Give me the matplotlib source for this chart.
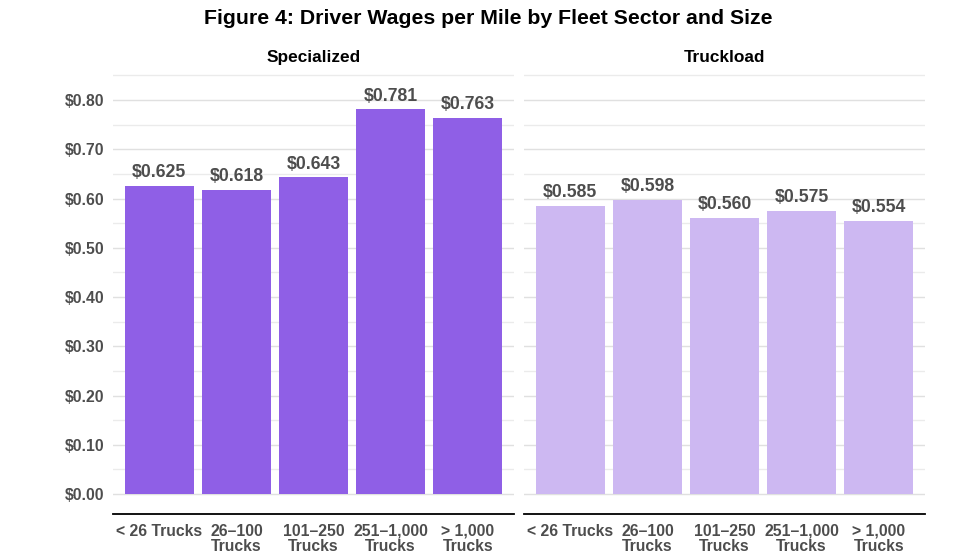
import matplotlib
matplotlib.use("Agg")
from matplotlib import pyplot as plt
import numpy as np

plt.rcParams['font.family'] = ['Liberation Sans', 'DejaVu Sans']

sizes = ['< 26 Trucks', '26\u2013100\nTrucks', '101\u2013250\nTrucks',
         '251\u20131,000\nTrucks', '> 1,000\nTrucks']
sectors = ['Specialized', 'Truckload']
specialized = [0.625, 0.618, 0.643, 0.781, 0.763]
truckload = [0.585, 0.598, 0.560, 0.575, 0.554]
values = [specialized, truckload]
colors = ['#8f5fe6', '#cdb8f2']

text_gray = '#4d4d4d'

fig = plt.figure(figsize=(9.8, 5.52), dpi=100)
fig.text(0.498, 0.984, 'Figure 4: Driver Wages per Mile by Fleet Sector and Size',
         ha='center', va='top', fontsize=15.3, fontweight='bold', color='black')

lefts = [113 / 980, 524 / 980]
for i, (name, vals, col) in enumerate(zip(sectors, values, colors)):
    ax = fig.add_axes([lefts[i], 38 / 552, 401 / 980, 444 / 552])
    x = np.arange(len(sizes))
    bars = ax.bar(x, vals, width=0.9, color=col, zorder=2)
    for b, v in zip(bars, vals):
        ax.annotate(f'${v:.3f}', (b.get_x() + b.get_width() / 2, v),
                    xytext=(0, 3.5), textcoords='offset points',
                    ha='center', va='bottom', fontsize=12.7,
                    fontweight='bold', color=text_gray)
    ax.set_xlim(-0.6, 4.6)
    ax.set_ylim(-0.0405, 0.861)
    ax.set_yticks(np.arange(0, 0.81, 0.1))
    ax.set_yticks(np.arange(0.05, 0.86, 0.1), minor=True)
    ax.grid(axis='y', which='major', color='#e0e0e0', linewidth=1, zorder=0)
    ax.grid(axis='y', which='minor', color='#ebebeb', linewidth=1, zorder=0)
    ax.set_axisbelow(True)
    for s in ['top', 'right', 'left']:
        ax.spines[s].set_visible(False)
    ax.spines['bottom'].set_color('black')
    ax.spines['bottom'].set_linewidth(1.3)
    ax.set_xticks(x)
    ax.set_xticklabels(sizes, fontsize=11.3, fontweight='bold', color=text_gray,
                       linespacing=1.05)
    ax.tick_params(axis='both', which='both', length=0)
    ax.tick_params(axis='x', pad=7)
    if i == 0:
        ax.set_yticklabels([f'${t:.2f}' for t in np.arange(0, 0.81, 0.1)],
                           fontsize=11.3, fontweight='bold', color=text_gray)
        ax.tick_params(axis='y', pad=6)
    else:
        ax.set_yticklabels([])
    ax.set_title(name, fontsize=12.4, fontweight='bold', color='black', pad=6)

fig.savefig('out.png', dpi=100)
